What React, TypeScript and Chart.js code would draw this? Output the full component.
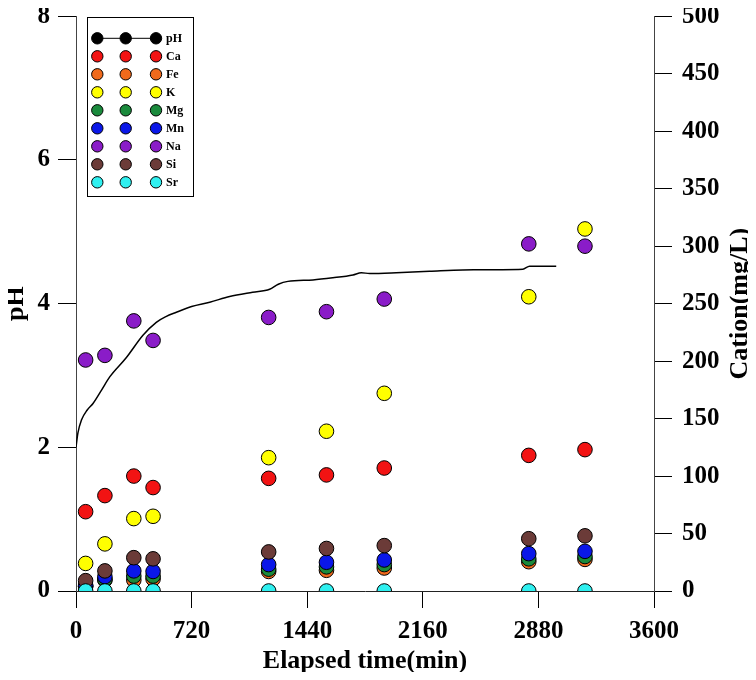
import React, { useEffect, useRef } from "react";
import { Chart, registerables } from "chart.js";

Chart.register(...registerables);

// pH record (continuous probe)
const phTime = [0, 12, 34, 70, 106, 160, 210, 314, 417, 500, 560, 625, 720, 833, 957, 1100, 1206, 1260, 1320, 1476, 1600, 1725, 1777, 1829, 1995, 2202, 2410, 2783, 2825, 2991];
const phValue = [2.0, 2.2, 2.38, 2.52, 2.61, 2.8, 2.98, 3.25, 3.56, 3.74, 3.82, 3.88, 3.96, 4.02, 4.1, 4.16, 4.2, 4.27, 4.31, 4.33, 4.36, 4.4, 4.43, 4.42, 4.43, 4.45, 4.47, 4.48, 4.52, 4.52];

// cation sampling times (min)
const sampleTime = [60, 180, 360, 480, 1200, 1560, 1920, 2820, 3170];
const Ca = [69, 83, 100, 90, 98, 101, 107, 118, 123];
const Fe = [4, 9.5, 9.5, 10.5, 17, 18, 20, 25.5, 27.5];
const K = [24, 41, 63, 65, 116, 139, 172, 256, 315];
const Mg = [4, 10, 13, 13, 19, 21, 23, 28, 30];
const Mn = [5, 12.5, 17.5, 17, 23, 25, 27, 32.5, 34.5];
const Na = [201, 205, 235, 218, 238, 243, 254, 302, 300];
const Si = [9, 17.5, 29, 28, 34, 37, 39.5, 45.5, 48];
const Sr = [0, 0, 0, 0, 0, 0, 0, 0, 0];

const xTicks = [0, 720, 1440, 2160, 2880, 3600];

const cationNames = ["Ca", "Fe", "K", "Mg", "Mn", "Na", "Si", "Sr"];
const cationValues = [Ca, Fe, K, Mg, Mn, Na, Si, Sr];
const cationColors = ["#f21313", "#f06a1c", "#ffff00", "#1a8a3c", "#0a17e8", "#8a1cc8", "#6b3b38", "#2ff0f0"];

const rightTitle = "Cation(mg/L)";

const FONT = "'Liberation Serif', 'Times New Roman', serif";
const W = 740;
const H = 664;

const legendPlugin = {
  id: "customLegend",
  afterDraw(chart: any) {
    const ctx = chart.ctx;
    const bx = 79, by = 9, bw = 106, bh = 179;
    ctx.save();
    ctx.fillStyle = "#fff";
    ctx.fillRect(bx, by, bw, bh);
    ctx.strokeStyle = "#000";
    ctx.lineWidth = 1;
    ctx.strokeRect(bx + 0.5, by + 0.5, bw, bh);
    const mx = [89.3, 117.7, 148];
    ctx.font = `bold 12px ${FONT}`;
    ctx.textBaseline = "middle";
    chart.data.datasets.forEach((ds: any, i: number) => {
      const y = 30.3 + 18 * i;
      const fill = ds.label === "pH" ? "#000" : ds.backgroundColor;
      if (ds.label === "pH") {
        ctx.beginPath();
        ctx.moveTo(mx[0], y);
        ctx.lineTo(mx[2], y);
        ctx.strokeStyle = "#000";
        ctx.lineWidth = 1;
        ctx.stroke();
      }
      mx.forEach((x) => {
        ctx.beginPath();
        ctx.arc(x, y, 5.7, 0, Math.PI * 2);
        ctx.fillStyle = fill;
        ctx.fill();
        ctx.strokeStyle = "#000";
        ctx.lineWidth = 1;
        ctx.stroke();
      });
      ctx.fillStyle = "#000";
      ctx.textAlign = "left";
      ctx.fillText(ds.label, 158, y + 1);
    });

    // right axis title, reading bottom-to-top
    const s = chart.scales.y1;
    ctx.save();
    ctx.translate(s.right - 8, (chart.chartArea.top + chart.chartArea.bottom) / 2);
    ctx.rotate(-Math.PI / 2);
    ctx.font = `bold 26px ${FONT}`;
    ctx.textAlign = "center";
    ctx.textBaseline = "middle";
    ctx.fillStyle = "#000";
    ctx.fillText(rightTitle, 0, 0);
    ctx.restore();
    ctx.restore();
  },
};

function zeroPad(scale: any) {
  scale.paddingTop = 0;
  scale.paddingBottom = 0;
  scale.paddingLeft = 0;
  scale.paddingRight = 0;
}

export default function App() {
  const ref = useRef<HTMLCanvasElement | null>(null);
  useEffect(() => {
    if (!ref.current) return;
    const datasets: any[] = [
      {
        label: "pH",
        type: "line",
        data: phTime.map((t, i) => ({ x: t, y: phValue[i] })),
        yAxisID: "y",
        borderColor: "#000",
        backgroundColor: "#000",
        borderWidth: 1.5,
        pointRadius: 0,
        cubicInterpolationMode: "monotone",
        fill: false,
        order: 20,
      },
    ];
    cationNames.forEach((name, k) => {
      datasets.push({
        label: name,
        type: "scatter",
        data: sampleTime.map((t, i) => ({ x: t, y: cationValues[k][i] })),
        yAxisID: "y1",
        backgroundColor: cationColors[k],
        borderColor: "#000",
        borderWidth: 1,
        pointRadius: 7.3,
        pointHoverRadius: 7.3,
        showLine: false,
        order: cationNames.length - k,
      });
    });

    const tickFont = { family: FONT, size: 25, weight: "bold" as const };
    const titleFont = { family: FONT, size: 26, weight: "bold" as const };

    const chart = new Chart(ref.current, {
      type: "scatter",
      data: { datasets },
      plugins: [legendPlugin],
      options: {
        animation: false,
        responsive: false,
        maintainAspectRatio: false,
        layout: { padding: { top: 7, left: 0, right: 0, bottom: 0 } },
        plugins: { legend: { display: false }, tooltip: { enabled: false } },
        scales: {
          x: {
            type: "linear",
            min: 0,
            max: 3600,
            afterBuildTicks: (s: any) => {
              s.ticks = xTicks.map((v) => ({ value: v }));
            },
            afterFit: (s: any) => {
              s.height = H - 583;
              zeroPad(s);
            },
            ticks: { color: "#000", font: tickFont, padding: 9, callback: (v: any) => String(v), maxRotation: 0 },
            grid: { drawOnChartArea: false, drawTicks: true, tickLength: 17, color: "#000" },
            border: { display: true, color: "#222", width: 1 },
            title: { display: true, text: "Elapsed time(min)", color: "#000", font: { ...titleFont, lineHeight: 0.85 }, padding: 0 },
          },
          y: {
            type: "linear",
            position: "left",
            min: 0,
            max: 8,
            ticks: { stepSize: 2, color: "#000", font: tickFont, padding: 8 },
            afterFit: (s: any) => {
              s.width = 68;
              zeroPad(s);
            },
            grid: { drawOnChartArea: false, drawTicks: true, tickLength: 18, color: "#000" },
            border: { display: true, color: "#444", width: 1 },
            title: { display: true, text: "pH", color: "#000", font: { ...titleFont, lineHeight: 0.6 }, padding: 0 },
          },
          y1: {
            type: "linear",
            position: "right",
            min: 0,
            max: 500,
            ticks: { stepSize: 50, color: "#000", font: tickFont, padding: 10 },
            afterFit: (s: any) => {
              s.width = 94;
              zeroPad(s);
            },
            grid: { drawOnChartArea: false, drawTicks: true, tickLength: 18, color: "#000" },
            border: { display: true, color: "#444", width: 1 },
            title: { display: false },
          },
        },
      } as any,
    });
    return () => chart.destroy();
  }, []);

  return (
    <div style={{ width: W, height: H }}>
      <canvas ref={ref} width={W} height={H} style={{ display: "block", width: W, height: H }} />
    </div>
  );
}
